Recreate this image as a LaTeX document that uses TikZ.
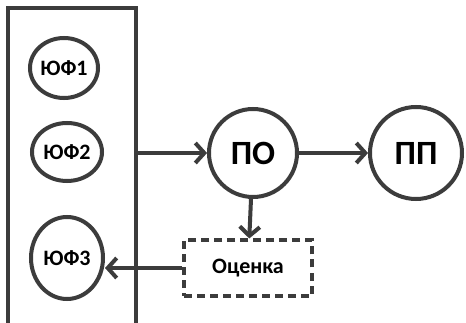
\documentclass[tikz,border=0pt]{standalone}
\usepackage{fontspec}
\setmainfont{Carlito}
\usetikzlibrary{arrows.meta,shapes.geometric}
\definecolor{ln}{HTML}{3C3C3C}
\begin{document}
\begin{tikzpicture}[x=1pt,y=-1pt,
  every node/.style={font=\bfseries},
  frame/.style={draw=ln,line width=4pt,minimum width=128pt,minimum height=322pt,inner sep=0pt},
  small/.style={ellipse,draw=ln,line width=4pt,inner sep=0pt,font=\bfseries\fontsize{22}{24}\selectfont},
  big/.style={circle,draw=ln,line width=4pt,minimum size=88pt,inner sep=0pt,font=\bfseries\fontsize{34}{36}\selectfont},
  est/.style={draw=ln,line width=4pt,dash pattern=on 8pt off 5pt,minimum width=128pt,minimum height=55pt,font=\bfseries\fontsize{22}{24}\selectfont},
  arr/.style={draw=ln,line width=4pt,-{Straight Barb[length=9pt,width=20pt,line width=4pt]}}
]
\useasboundingbox (0,0) rectangle (466,323);
\clip (0,0) rectangle (466,323);
\fill[white] (0,0) rectangle (466,323);
\node[frame] (fr) at (72,169) {};
\node[small,minimum width=68pt,minimum height=60pt] (u1) at (64,68) {ЮФ1};
\node[small,minimum width=70pt,minimum height=58pt] (u2) at (67,152) {ЮФ2};
\node[small,minimum width=72pt,minimum height=82pt] (u3) at (67,258) {ЮФ3};
\node[big] (po) at (253,153) {ПО};
\node[big,minimum size=92pt] (pp) at (416,153) {ПП};
\node[est] (ev) at (248,268) {Оценка};
\draw[arr] (fr.east |- po) -- (po);
\draw[arr] (po) -- (pp);
\draw[arr] (po) -- (ev);
\draw[arr] (ev.west) -- (u3.east |- ev.west);
\end{tikzpicture}
\end{document}
